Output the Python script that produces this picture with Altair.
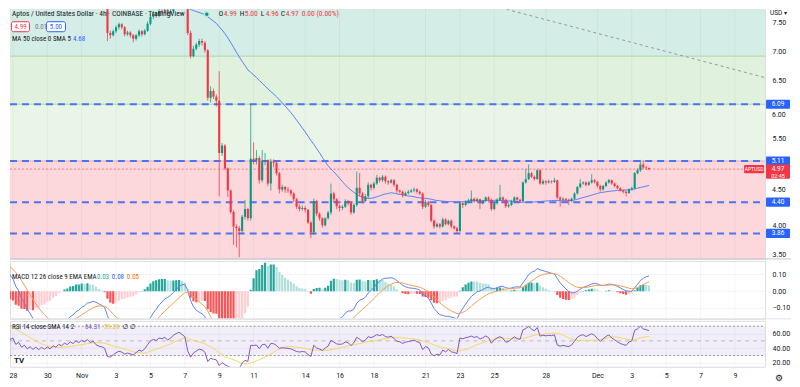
import altair as alt
import numpy as np
import pandas as pd

# ---------------- data ----------------
# 4h candles before Nov 2 lie above the visible price range; they only feed the indicators
hidden_closes = [
    8.30, 8.45, 8.38, 8.52, 8.46, 8.60,
    8.55, 8.70, 8.62, 8.78, 8.70, 8.85,
    8.78, 8.92, 8.84, 8.98, 8.90, 9.05,
    8.96, 9.10, 9.00, 9.15, 9.05, 9.20,
    9.10, 9.22, 9.05, 8.90, 9.00, 8.70,
    8.78, 8.45, 8.55, 8.25, 8.35, 8.10,
    8.20, 8.02, 8.12, 7.95, 8.06, 7.92,
    8.02, 7.90, 8.04, 7.95, 8.08, 8.00,
    8.12, 8.04, 8.16, 8.08, 8.20, 8.12,
    8.22, 8.15, 8.25, 8.12, 8.18, 8.02,
]

# visible 4h candles, Nov 2 00:00 -> Dec 4 00:00 (one row per day)
opens = [
    7.98, 7.95, 7.92, 7.85, 7.32, 7.28,
    7.35, 7.42, 7.47, 7.42, 7.30, 7.33,
    7.28, 7.22, 7.28, 7.35, 7.30, 7.36,
    7.48, 7.60, 7.65, 7.62, 7.70, 7.68,
    7.72, 7.65, 7.70, 7.80, 7.85, 7.90,
    7.85, 7.80, 7.32, 6.92, 7.05, 7.12,
    7.18, 7.15, 7.02, 6.20, 6.32, 6.22,
    6.15, 5.25, 5.38, 4.98, 4.60, 4.23,
    3.98, 3.95, 3.90, 4.15, 4.28, 4.12,
    5.15, 5.12, 5.16, 4.78, 5.10, 5.12,
    4.72, 5.10, 5.08, 4.90, 4.62, 4.66,
    4.62, 4.60, 4.55, 4.45, 4.32, 4.28,
    4.30, 4.27, 4.05, 3.88, 4.42, 4.20,
    4.12, 4.00, 4.12, 4.22, 4.55, 4.45,
    4.33, 4.30, 4.32, 4.42, 4.38, 4.22,
    4.35, 4.65, 4.55, 4.42, 4.50, 4.70,
    4.65, 4.72, 4.82, 4.78, 4.84, 4.76,
    4.74, 4.78, 4.70, 4.60, 4.58, 4.52,
    4.56, 4.58, 4.60, 4.62, 4.58, 4.55,
    4.32, 4.40, 4.35, 4.08, 3.98, 4.02,
    3.98, 4.10, 4.02, 4.08, 3.98, 3.95,
    3.90, 4.38, 4.35, 4.40, 4.42, 4.46,
    4.42, 4.45, 4.38, 4.42, 4.48, 4.44,
    4.28, 4.38, 4.44, 4.48, 4.44, 4.33,
    4.35, 4.42, 4.48, 4.44, 4.42, 4.74,
    4.80, 4.90, 4.84, 4.80, 4.95, 4.72,
    4.76, 4.74, 4.76, 4.75, 4.78, 4.48,
    4.44, 4.46, 4.44, 4.42, 4.46, 4.55,
    4.66, 4.72, 4.74, 4.70, 4.74, 4.78,
    4.75, 4.68, 4.62, 4.68, 4.74, 4.78,
    4.72, 4.68, 4.64, 4.60, 4.58, 4.56,
    4.62, 4.64, 4.90, 4.95, 5.05, 5.00,
    4.99,
]
highs = [
    8.05, 8.00, 7.96, 7.88, 7.36, 7.38,
    7.45, 7.50, 7.49, 7.44, 7.36, 7.35,
    7.30, 7.30, 7.38, 7.37, 7.39, 7.52,
    7.64, 7.70, 7.68, 7.74, 7.73, 7.76,
    7.76, 7.74, 7.84, 7.90, 7.95, 7.93,
    7.88, 7.82, 7.36, 7.10, 7.15, 7.22,
    7.22, 7.18, 7.04, 6.40, 6.36, 6.26,
    6.66, 5.42, 5.40, 5.00, 4.62, 4.26,
    4.02, 3.99, 4.18, 4.44, 4.30, 6.08,
    5.43, 5.30, 5.20, 5.30, 5.25, 5.14,
    5.15, 5.14, 5.10, 4.92, 4.70, 4.68,
    4.66, 4.62, 4.57, 4.47, 4.36, 4.34,
    4.33, 4.28, 4.07, 4.46, 4.44, 4.22,
    4.14, 4.14, 4.25, 4.72, 4.58, 4.47,
    4.36, 4.35, 4.45, 4.44, 4.40, 4.38,
    4.93, 4.90, 4.57, 4.54, 4.74, 4.72,
    4.75, 4.87, 4.84, 4.87, 4.86, 4.78,
    4.80, 4.80, 4.72, 4.62, 4.60, 4.58,
    4.61, 4.63, 4.65, 4.64, 4.60, 4.57,
    4.44, 4.42, 4.37, 4.10, 4.05, 4.04,
    4.13, 4.12, 4.10, 4.10, 4.00, 3.97,
    4.42, 4.40, 4.43, 4.46, 4.60, 4.48,
    4.48, 4.46, 4.44, 4.50, 4.50, 4.46,
    4.40, 4.47, 4.70, 4.50, 4.46, 4.38,
    4.44, 4.50, 4.49, 4.46, 4.76, 4.97,
    5.05, 4.92, 4.86, 4.97, 4.97, 4.79,
    4.78, 4.79, 4.78, 4.82, 4.79, 4.50,
    4.48, 4.47, 4.46, 4.48, 4.57, 4.68,
    4.80, 4.76, 4.76, 4.76, 4.88, 4.80,
    4.76, 4.70, 4.70, 4.76, 4.80, 4.79,
    4.74, 4.70, 4.66, 4.62, 4.60, 4.64,
    4.67, 4.92, 4.98, 5.13, 5.12, 5.02,
    5.00,
]
lows = [
    7.90, 7.88, 7.80, 7.18, 7.22, 7.26,
    7.32, 7.38, 7.38, 7.26, 7.27, 7.24,
    7.16, 7.19, 7.25, 7.26, 7.28, 7.34,
    7.45, 7.56, 7.58, 7.59, 7.64, 7.65,
    7.62, 7.62, 7.68, 7.77, 7.82, 7.80,
    7.75, 7.28, 6.88, 6.90, 7.02, 7.08,
    7.10, 6.98, 6.15, 6.12, 6.18, 6.05,
    4.50, 5.20, 4.95, 4.49, 4.20, 3.66,
    3.62, 3.45, 3.85, 4.10, 4.08, 4.08,
    5.05, 5.05, 4.72, 4.74, 5.04, 4.68,
    4.60, 5.00, 4.86, 4.55, 4.58, 4.56,
    4.56, 4.50, 4.40, 4.28, 4.24, 4.25,
    4.22, 4.02, 3.78, 3.84, 4.16, 4.08,
    3.96, 3.98, 4.10, 4.18, 4.40, 4.28,
    4.24, 4.26, 4.30, 4.34, 4.18, 4.20,
    4.32, 4.50, 4.38, 4.40, 4.46, 4.60,
    4.62, 4.70, 4.74, 4.75, 4.72, 4.70,
    4.72, 4.66, 4.56, 4.55, 4.48, 4.50,
    4.53, 4.56, 4.57, 4.55, 4.52, 4.28,
    4.30, 4.32, 4.05, 3.94, 3.96, 3.95,
    3.96, 4.00, 4.00, 3.95, 3.92, 3.86,
    3.88, 4.30, 4.33, 4.38, 4.40, 4.39,
    4.40, 4.28, 4.36, 4.40, 4.40, 4.25,
    4.26, 4.36, 4.42, 4.40, 4.30, 4.30,
    4.33, 4.40, 4.40, 4.39, 4.40, 4.72,
    4.78, 4.82, 4.77, 4.78, 4.70, 4.70,
    4.70, 4.72, 4.72, 4.73, 4.45, 4.32,
    4.42, 4.41, 4.35, 4.40, 4.44, 4.53,
    4.64, 4.70, 4.67, 4.68, 4.72, 4.72,
    4.65, 4.58, 4.60, 4.66, 4.72, 4.70,
    4.66, 4.62, 4.58, 4.55, 4.50, 4.54,
    4.60, 4.62, 4.88, 4.92, 4.97, 4.96,
    4.96,
]
closes = [
    7.95, 7.92, 7.85, 7.32, 7.28, 7.35,
    7.42, 7.47, 7.42, 7.30, 7.33, 7.28,
    7.22, 7.28, 7.35, 7.30, 7.36, 7.48,
    7.60, 7.65, 7.62, 7.70, 7.68, 7.72,
    7.65, 7.70, 7.80, 7.85, 7.90, 7.85,
    7.80, 7.32, 6.92, 7.05, 7.12, 7.18,
    7.15, 7.02, 6.20, 6.32, 6.22, 6.15,
    5.25, 5.38, 4.98, 4.60, 4.23, 3.98,
    3.95, 3.90, 4.15, 4.28, 4.12, 5.15,
    5.12, 5.16, 4.78, 5.10, 5.12, 4.72,
    5.10, 5.08, 4.90, 4.62, 4.66, 4.62,
    4.60, 4.55, 4.45, 4.32, 4.28, 4.30,
    4.27, 4.05, 3.88, 4.42, 4.20, 4.12,
    4.00, 4.12, 4.22, 4.55, 4.45, 4.33,
    4.30, 4.32, 4.42, 4.38, 4.22, 4.35,
    4.65, 4.55, 4.42, 4.50, 4.70, 4.65,
    4.72, 4.82, 4.78, 4.84, 4.76, 4.74,
    4.78, 4.70, 4.60, 4.58, 4.52, 4.56,
    4.58, 4.60, 4.62, 4.58, 4.55, 4.32,
    4.40, 4.35, 4.08, 3.98, 4.02, 3.98,
    4.10, 4.02, 4.08, 3.98, 3.95, 3.90,
    4.38, 4.35, 4.40, 4.42, 4.46, 4.42,
    4.45, 4.38, 4.42, 4.48, 4.44, 4.28,
    4.38, 4.44, 4.48, 4.44, 4.33, 4.35,
    4.42, 4.48, 4.44, 4.42, 4.74, 4.80,
    4.90, 4.84, 4.80, 4.95, 4.72, 4.76,
    4.74, 4.76, 4.75, 4.78, 4.48, 4.44,
    4.46, 4.44, 4.42, 4.46, 4.55, 4.66,
    4.72, 4.74, 4.70, 4.74, 4.78, 4.75,
    4.68, 4.62, 4.68, 4.74, 4.78, 4.72,
    4.68, 4.64, 4.60, 4.58, 4.56, 4.62,
    4.64, 4.90, 4.95, 5.05, 5.00, 4.99,
    4.97,
]

level_prices = [6.09, 5.11, 4.40, 3.86]
level_labels = ["6.09", "5.11", "4.40", "3.86"]
zone_bounds = [8.50, 6.92, 6.09, 5.11, 3.00]
zone_colors = ["#d4ede7", "#e0f1dd", "#e9f6e7", "#fcd8dc"]
zone_edges = [6.92, 6.09, 5.11]
zone_edge_colors = ["#a9d8ab", "#a9d8ab", "#f5a3ab"]
last_price = 4.97
trend_t = [28.7, 43.75]
trend_p = [7.73, 6.55]

tick_days = [0, 2, 4, 6, 8, 10, 12, 14, 17, 19, 21, 24, 26, 28, 31, 34, 36, 38, 40, 42]
tick_labels = ["28", "30", "Nov", "3", "5", "7", "9", "11", "14", "16", "18",
               "21", "23", "25", "28", "Dec", "3", "5", "7", "9"]
price_ticks = [7.5, 7.0, 6.5, 5.5, 4.0, 3.5]
# TradingView nudges these labels away from the level boxes next to them
nudged_ticks = [6.0, 4.5]
nudged_dy = [6, -6]
macd_ticks = [0.1, 0.0, -0.1]
rsi_ticks = [60, 40, 20]
rsi_band = [30, 70]

# ---------------- layout ----------------
W, HP, HM, HR = 756, 250, 58, 46
T0, T1 = -0.17, 43.75
PMIN, PMAX = 3.42, 7.73
MMIN, MMAX = -0.165, 0.18
RMIN, RMAX = 14.7, 77.3
FONT = "Roboto"
NARROW = "Liberation Sans Narrow, Roboto Condensed, DejaVu Sans Condensed, Roboto"
DARK = "#131722"
GRAY = "#787b86"
UP, DOWN = "#089981", "#f23645"
BLUE = "#2962ff"

t_hidden = [-5 + k / 6 for k in range(len(hidden_closes))]
t_vis = [5 + k / 6 for k in range(len(closes))]

candles = pd.DataFrame({"t": t_vis, "open": opens, "high": highs, "low": lows, "close": closes})
candles["col"] = np.where(candles["close"] >= candles["open"], UP, DOWN)

allc = pd.Series(hidden_closes + closes, dtype=float)
allt = np.array(t_hidden + t_vis)
ema12 = allc.ewm(span=12, adjust=False).mean()
ema26 = allc.ewm(span=26, adjust=False).mean()
macd = ema12 - ema26
sig = macd.ewm(span=9, adjust=False).mean()
hist = macd - sig
prev = hist.shift(1)
hcol = np.where(hist >= 0,
                np.where(hist >= prev, "#26a69a", "#b2dfdb"),
                np.where(hist >= prev, "#ffcdd2", "#ff5252"))
delta = allc.diff()
gain = delta.clip(lower=0).ewm(alpha=1 / 14, adjust=False).mean()
loss = (-delta.clip(upper=0)).ewm(alpha=1 / 14, adjust=False).mean()
rsi = 100 - 100 / (1 + gain / loss)
rsi_ma = rsi.rolling(14).mean()
ma50 = allc.rolling(50).mean()

ind = pd.DataFrame({"t": allt, "macd": macd, "signal": sig, "hist": hist, "hcol": hcol,
                    "rsi": rsi, "rsi_ma": rsi_ma, "ma": ma50})
ind["zero"] = 0.0
ind = ind[ind["t"] >= T0 - 0.3].reset_index(drop=True)
ma_df = ind.dropna(subset=["ma"])[["t", "ma"]]
rsi_df = ind.dropna(subset=["rsi"])[["t", "rsi", "rsi_ma"]]

xs = alt.Scale(domain=[T0, T1], nice=False, zero=False)
label_expr = ("[" + ",".join("'%s'" % s for s in tick_labels) + "][indexof(["
              + ",".join(str(v) for v in tick_days) + "], datum.value)]")
XH = alt.Axis(values=tick_days, labels=False, ticks=False, domain=False, grid=False, title=None)
XB = alt.Axis(values=tick_days, labelExpr=label_expr, ticks=False, domain=False, grid=False,
              title=None, labelFontSize=7, labelColor=DARK, labelPadding=5, labelFont=FONT,
              labelFlush=False)


def yaxis(vals, fmt):
    return alt.Axis(orient="right", values=vals, format=fmt, title=None, ticks=False,
                    domain=False, grid=True, gridColor="#f0f3fa", labelFontSize=7,
                    labelColor=DARK, labelPadding=7, labelFont=FONT, labelFlush=False)


ysp = alt.Scale(domain=[PMIN, PMAX], nice=False, zero=False)
ysm = alt.Scale(domain=[MMIN, MMAX], nice=False, zero=False)
ysr = alt.Scale(domain=[RMIN, RMAX], nice=False, zero=False)
YP = yaxis(price_ticks, ".2f")
YM = yaxis(macd_ticks, ".2f")
YR = yaxis(rsi_ticks, ".2f")

one = pd.DataFrame({"a": [0]})


def txt(x, y, s, color=DARK, size=7, align="left", weight="normal", font=NARROW):
    return alt.Chart(one).mark_text(text=s, align=align, baseline="middle", fontSize=size,
                                    font=font, color=color, fontWeight=weight).encode(
        x=alt.value(x), y=alt.value(y))


def pixbox(x1, x2, y1, y2, stroke, fill="white"):
    return alt.Chart(one).mark_rect(fill=fill, stroke=stroke, strokeWidth=1,
                                    cornerRadius=2).encode(
        x=alt.value(x1), x2=alt.value(x2), y=alt.value(y1), y2=alt.value(y2))


def vgrid(axis):
    return alt.Chart(pd.DataFrame({"t": tick_days})).mark_rule(
        color="#000000", opacity=0.045, strokeWidth=1).encode(
        x=alt.X("t:Q", scale=xs, axis=axis))


# ---------------- price pane ----------------
zones = pd.DataFrame({"hi": zone_bounds[:-1], "lo": zone_bounds[1:], "fill": zone_colors})
edges = pd.DataFrame({"p": zone_edges, "c": zone_edge_colors})
levels = pd.DataFrame({"p": level_prices, "label": level_labels})
trend = pd.DataFrame({"t": trend_t, "p": trend_p})
last = pd.DataFrame({"p": [last_price], "label": ["%.2f" % last_price]})

half = 4.6 * (PMAX - PMIN) / HP

zone_layer = alt.Chart(zones).mark_rect(clip=True).encode(
    x=alt.value(0), x2=alt.value(W),
    y=alt.Y("lo:Q", scale=ysp, axis=YP), y2="hi:Q", color=alt.Color("fill:N", scale=None))
edge_layer = alt.Chart(edges).mark_rule(strokeWidth=1, clip=True).encode(
    x=alt.value(0), x2=alt.value(W), y=alt.Y("p:Q", scale=ysp, axis=YP),
    color=alt.Color("c:N", scale=None))
trend_layer = alt.Chart(trend).mark_line(color="#9598a1", strokeWidth=1, strokeDash=[3, 3],
                                         clip=True).encode(
    x=alt.X("t:Q", scale=xs, axis=XH), y=alt.Y("p:Q", scale=ysp, axis=YP))
level_layer = alt.Chart(levels).mark_rule(color="#4d72f2", strokeWidth=2, strokeDash=[7, 5],
                                          clip=True).encode(
    x=alt.value(0), x2=alt.value(W), y=alt.Y("p:Q", scale=ysp, axis=YP))
last_layer = alt.Chart(last).mark_rule(color=DOWN, strokeWidth=1, strokeDash=[2, 2], opacity=0.6,
                                       clip=True).encode(
    x=alt.value(0), x2=alt.value(W), y=alt.Y("p:Q", scale=ysp, axis=YP))
ma_layer = alt.Chart(ma_df).mark_line(color="#5b7ff2", strokeWidth=1, clip=True).encode(
    x=alt.X("t:Q", scale=xs, axis=XH), y=alt.Y("ma:Q", scale=ysp, axis=YP))
wick_layer = alt.Chart(candles).mark_rule(strokeWidth=1, opacity=0.75, clip=True).encode(
    x=alt.X("t:Q", scale=xs, axis=XH), y=alt.Y("low:Q", scale=ysp, axis=YP), y2="high:Q",
    color=alt.Color("col:N", scale=None))
body_layer = alt.Chart(candles).mark_rule(strokeWidth=2.1, clip=True).encode(
    x=alt.X("t:Q", scale=xs, axis=XH), y=alt.Y("open:Q", scale=ysp, axis=YP), y2="close:Q",
    color=alt.Color("col:N", scale=None))

nudged_layers = [
    alt.Chart(pd.DataFrame({"p": [v], "label": ["%.2f" % v]})).mark_text(
        color=DARK, fontSize=7, font=FONT, dy=d, align="left", baseline="middle").encode(
        x=alt.value(W + 7), y=alt.Y("p:Q", scale=ysp, axis=YP), text="label:N")
    for v, d in zip(nudged_ticks, nudged_dy)
]
box_layer = alt.Chart(levels).transform_calculate(
    lo="datum.p - %f" % half, hi="datum.p + %f" % half).mark_rect(
    color=BLUE, cornerRadius=1).encode(
    x=alt.value(W + 1), x2=alt.value(W + 25), y=alt.Y("lo:Q", scale=ysp, axis=YP), y2="hi:Q")
box_text = alt.Chart(levels).mark_text(color="white", fontSize=6.5, font=FONT,
                                       align="center", baseline="middle").encode(
    x=alt.value(W + 13), y=alt.Y("p:Q", scale=ysp, axis=YP), text="label:N")
red_box = alt.Chart(last).transform_calculate(
    lo="datum.p - %f" % (half * 2.1), hi="datum.p + %f" % half).mark_rect(
    color=DOWN, cornerRadius=1).encode(
    x=alt.value(W + 1), x2=alt.value(W + 25), y=alt.Y("lo:Q", scale=ysp, axis=YP), y2="hi:Q")
red_text = alt.Chart(last).mark_text(color="white", fontSize=6.5, font=FONT,
                                     align="center", baseline="middle").encode(
    x=alt.value(W + 13), y=alt.Y("p:Q", scale=ysp, axis=YP), text="label:N")
red_text2 = alt.Chart(last).mark_text(color="white", fontSize=5.5, font=FONT, dy=6.5,
                                      align="center", baseline="middle", text="02:45").encode(
    x=alt.value(W + 13), y=alt.Y("p:Q", scale=ysp, axis=YP))
tag_box = alt.Chart(last).transform_calculate(
    lo="datum.p - %f" % (half * 0.9), hi="datum.p + %f" % (half * 0.9)).mark_rect(
    color=DOWN, cornerRadius=1).encode(
    x=alt.value(W - 21), x2=alt.value(W - 1), y=alt.Y("lo:Q", scale=ysp, axis=YP), y2="hi:Q")
tag_text = alt.Chart(last).mark_text(color="white", fontSize=5, font=FONT, text="APTUSD",
                                     align="center", baseline="middle").encode(
    x=alt.value(W - 11), y=alt.Y("p:Q", scale=ysp, axis=YP))

sep_price = alt.Chart(one).mark_rule(color="#c3c6ce", strokeWidth=1).encode(
    x=alt.value(0), x2=alt.value(W + 26), y=alt.value(HP))

header = [
    txt(2, 5, "Aptos / United States Dollar · 4h · COINBASE · TradingView", DARK, 7.5),
    alt.Chart(one).mark_circle(size=38, color="#bfe3dc", opacity=1).encode(
        x=alt.value(197), y=alt.value(5)),
    alt.Chart(one).mark_circle(size=12, color=UP, opacity=1).encode(
        x=alt.value(197), y=alt.value(5)),
]
ohlc = [("O", "4.99", 209), ("H", "5.00", 230), ("L", "4.96", 251), ("C", "4.97", 271)]
for letter, val, px in ohlc:
    header.append(txt(px, 5, letter, DARK, 7.5))
    header.append(txt(px + 5, 5, val, DOWN, 7.5))
header.append(txt(292, 5, "0.00 (0.00%)", DOWN, 7.5))
header += [
    pixbox(1.5, 19.5, 12.5, 22.5, DOWN),
    txt(10.5, 17.5, "4.99", DOWN, 7, "center"),
    txt(25, 17.5, "0.01", GRAY, 7),
    pixbox(36.5, 55.5, 12.5, 22.5, BLUE),
    txt(46, 17.5, "5.00", BLUE, 7, "center"),
    txt(2, 29.5, "MA 50 close 0 SMA 5", DARK, 7),
    txt(63, 29.5, "4.68", BLUE, 7),
    txt(W + 5, 4, "USD ▾", DARK, 6.5, font=FONT),
]

price = alt.layer(zone_layer, vgrid(XH), edge_layer, trend_layer, level_layer, last_layer,
                  ma_layer, wick_layer, body_layer, tag_box, tag_text, *nudged_layers,
                  box_layer, box_text, red_box, red_text, red_text2, sep_price,
                  *header).properties(width=W, height=HP)

# ---------------- MACD pane ----------------
hist_layer = alt.Chart(ind).mark_rule(strokeWidth=2.2, clip=True).encode(
    x=alt.X("t:Q", scale=xs, axis=XH), y=alt.Y("zero:Q", scale=ysm, axis=YM), y2="hist:Q",
    color=alt.Color("hcol:N", scale=None))
macd_line = alt.Chart(ind).mark_line(color="#5b82f5", strokeWidth=1, clip=True).encode(
    x=alt.X("t:Q", scale=xs, axis=XH), y=alt.Y("macd:Q", scale=ysm, axis=YM))
sig_line = alt.Chart(ind).mark_line(color="#f89a55", strokeWidth=1, clip=True).encode(
    x=alt.X("t:Q", scale=xs, axis=XH), y=alt.Y("signal:Q", scale=ysm, axis=YM))
sep_macd = alt.Chart(one).mark_rule(color="#e0e3eb", strokeWidth=1).encode(
    x=alt.value(0), x2=alt.value(W + 26), y=alt.value(HM))
macd_hdr = [
    txt(2, 16, "MACD 12 26 close 9 EMA EMA", DARK, 7),
    txt(87, 16, "0.03", "#26a69a", 7),
    txt(102, 16, "0.08", BLUE, 7),
    txt(117, 16, "0.05", "#ff6d00", 7),
]
macd_chart = alt.layer(vgrid(XH), hist_layer, macd_line, sig_line, sep_macd,
                       *macd_hdr).properties(width=W, height=HM)

# ---------------- RSI pane ----------------
band = pd.DataFrame({"lo": [rsi_band[0]], "hi": [rsi_band[1]]})
band_layer = alt.Chart(band).mark_rect(color="#7e57c2", opacity=0.1, clip=True).encode(
    x=alt.value(0), x2=alt.value(W), y=alt.Y("lo:Q", scale=ysr, axis=YR), y2="hi:Q")
band_edges = alt.Chart(pd.DataFrame({"v": rsi_band})).mark_rule(
    color=GRAY, strokeWidth=1, strokeDash=[2, 2], opacity=0.8).encode(
    x=alt.value(0), x2=alt.value(W), y=alt.Y("v:Q", scale=ysr, axis=YR))
mid_line = alt.Chart(pd.DataFrame({"v": [50]})).mark_rule(
    color=GRAY, strokeWidth=1, strokeDash=[4, 4], opacity=0.45).encode(
    x=alt.value(0), x2=alt.value(W), y=alt.Y("v:Q", scale=ysr, axis=YR))
rsi_ma_line = alt.Chart(rsi_df).mark_line(color="#f5d760", strokeWidth=1, clip=True).encode(
    x=alt.X("t:Q", scale=xs, axis=XB), y=alt.Y("rsi_ma:Q", scale=ysr, axis=YR))
rsi_line = alt.Chart(rsi_df).mark_line(color="#7e57c2", strokeWidth=1, clip=True).encode(
    x=alt.X("t:Q", scale=xs, axis=XB), y=alt.Y("rsi:Q", scale=ysr, axis=YR))
rsi_hdr = [
    txt(2, 6, "RSI 14 close SMA 14 2", DARK, 7),
    txt(75, 6, "64.31", "#7e57c2", 7),
    txt(94, 6, "59.28", "#e5c22c", 7),
    txt(113, 6, "∅ ∅", DARK, 7),
    txt(4, HR - 6, "TV", DARK, 8, weight="bold", font=FONT),
    txt(W + 14, HR + 11, "⚙", DARK, 9, "center", font=FONT),
]
rsi_chart = alt.layer(band_layer, vgrid(XB), band_edges, mid_line, rsi_ma_line, rsi_line,
                      *rsi_hdr).properties(width=W, height=HR)

chart = alt.vconcat(price, macd_chart, rsi_chart, spacing=0).configure_view(
    stroke=None).configure(background="white", padding=0)

chart.save("out.html", embed_options={"renderer": "svg", "actions": False})
